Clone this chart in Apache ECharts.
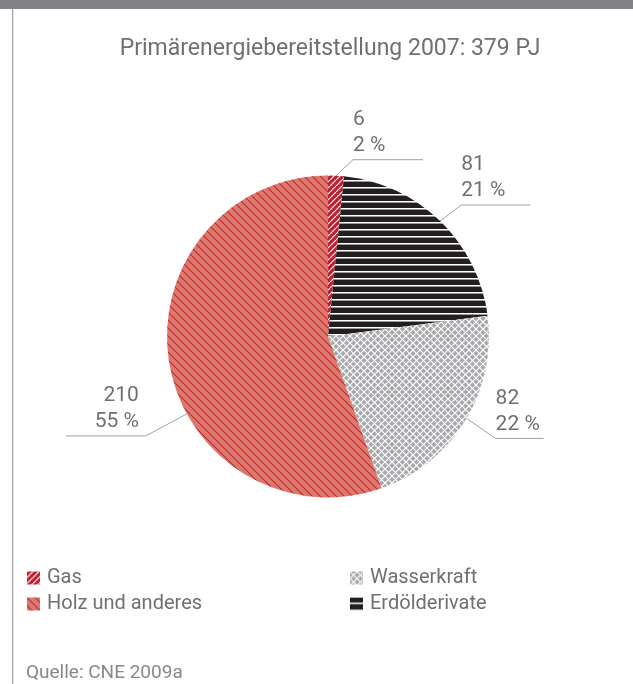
<!DOCTYPE html>
<html><head><meta charset="utf-8">
<script src="https://cdn.jsdelivr.net/npm/echarts@6/dist/echarts.min.js"></script>
<style>html,body{margin:0;padding:0;background:#fff}#c{width:633px;height:684px}</style>
</head><body><div id="c"></div>
<script>
// ---- data ----
const TITLE = 'Primärenergiebereitstellung 2007: 379 PJ';
const SOURCE = 'Quelle: CNE 2009a';
const categories = ['Gas', 'Erdölderivate', 'Wasserkraft', 'Holz und anderes'];
const values = [6, 81, 82, 210];
const legendLeft = ['Gas', 'Holz und anderes'];
const legendRight = ['Wasserkraft', 'Erdölderivate'];

// ---- layout / style ----
const FONT = 'Roboto, "Noto Sans", sans-serif';
const TEXT = '#6f7073';
const CX = 328, CY = 336.5, R = 161;
const GUIDE = [
  {shift: 0,   dx: 17,  dy: -16, len: 70},
  {shift: 0,   dx: 21,  dy: -16, len: 69},
  {shift: -1,  dx: 29,  dy: 20,  len: 48},
  {shift: -19, dx: -41, dy: 22,  len: 80}
];

function tile(size, bg, draw) {
  const c = document.createElement('canvas');
  c.width = size[0]; c.height = size[1];
  const g = c.getContext('2d');
  g.fillStyle = bg; g.fillRect(0, 0, size[0], size[1]);
  draw(g, size[0], size[1]);
  return {image: c, repeat: 'repeat'};
}
function diag(g, s, dir) {
  g.beginPath();
  for (const k of [-s, 0, s]) {
    if (dir === '/') { g.moveTo(k, s); g.lineTo(k + s, 0); }
    else { g.moveTo(k, 0); g.lineTo(k + s, s); }
  }
  g.stroke();
}
const patGas = tile([6, 6], '#be1e2d', (g, s) => { g.strokeStyle = '#ffffff'; g.lineWidth = 1.2; diag(g, s, '/'); });
const patHolz = tile([8, 8], '#da7a6f', (g, s) => { g.strokeStyle = '#c1272d'; g.lineWidth = 1.1; diag(g, s, '\\'); });
const patOil = tile([4, 7], '#231f20', (g, w, h) => { g.fillStyle = '#ffffff'; g.fillRect(0, 5, w, 1); g.fillStyle = '#9a9a9a'; g.fillRect(0, 6, w, 1); });
const patWater = tile([7, 7], '#a7a9ac', (g, s) => { g.strokeStyle = '#ffffff'; g.lineWidth = 1.2; diag(g, s, '/'); diag(g, s, '\\'); });
const patterns = [patGas, patOil, patWater, patHolz];

const total = values.reduce((a, b) => a + b, 0);
const mids = [];
let acc = 0;
values.forEach(v => { mids.push((acc + v / 2) / total * 360); acc += v; });

const chart = echarts.init(document.getElementById('c'));
const legendCommon = {
  orient: 'vertical', top: 568, itemWidth: 13, itemHeight: 13, itemGap: 6,
  icon: 'rect', selectedMode: false, padding: 0,
  textStyle: {color: TEXT, fontSize: 20, fontFamily: FONT, padding: [0, 0, 0, 2]}
};
chart.setOption({
  animation: false,
  backgroundColor: '#ffffff',
  legend: [
    Object.assign({left: 27, data: legendLeft}, legendCommon),
    Object.assign({left: 350, data: legendRight}, legendCommon)
  ],
  graphic: [
    {type: 'rect', shape: {x: 0, y: 0, width: 633, height: 9}, style: {fill: '#808285'}},
    {type: 'rect', shape: {x: 12, y: 9, width: 1.3, height: 675}, style: {fill: '#a3a4a7'}},
    {type: 'text', x: 330, y: 49, style: {text: TITLE, fill: TEXT, font: '23px ' + FONT, textAlign: 'center', textVerticalAlign: 'middle'}},
    {type: 'text', x: 26, y: 673, style: {text: SOURCE, fill: '#86888b', font: '19px ' + FONT, textAlign: 'left', textVerticalAlign: 'middle'}}
  ],
  series: [{
    type: 'pie',
    center: [CX, CY],
    radius: R,
    startAngle: 90,
    clockwise: true,
    avoidLabelOverlap: false,
    percentPrecision: 0,
    itemStyle: {borderWidth: 0},
    emphasis: {disabled: true},
    label: {
      show: true, position: 'outside',
      formatter: '{c}\n{d} %',
      color: TEXT, fontSize: 21, lineHeight: 26, fontFamily: FONT
    },
    labelLine: {show: true, smooth: false, lineStyle: {color: '#a0a0a0', width: 1}},
    labelLayout: function (p) {
      const i = p.dataIndex, g = GUIDE[i];
      const a = (mids[i] + g.shift) * Math.PI / 180;
      const p0 = [CX + R * Math.sin(a), CY - R * Math.cos(a)];
      const p1 = [p0[0] + g.dx, p0[1] + g.dy];
      const right = g.dx > 0;
      const p2 = [p1[0] + (right ? g.len : -g.len), p1[1]];
      return {
        x: right ? p1[0] : p1[0] - 7, y: p1[1] - 1,
        align: right ? 'left' : 'right', verticalAlign: 'bottom',
        labelLinePoints: [p0, p1, p2]
      };
    },
    data: categories.map((name, i) => ({name, value: values[i], itemStyle: {color: patterns[i]}}))
  }]
});
</script>
</body></html>
